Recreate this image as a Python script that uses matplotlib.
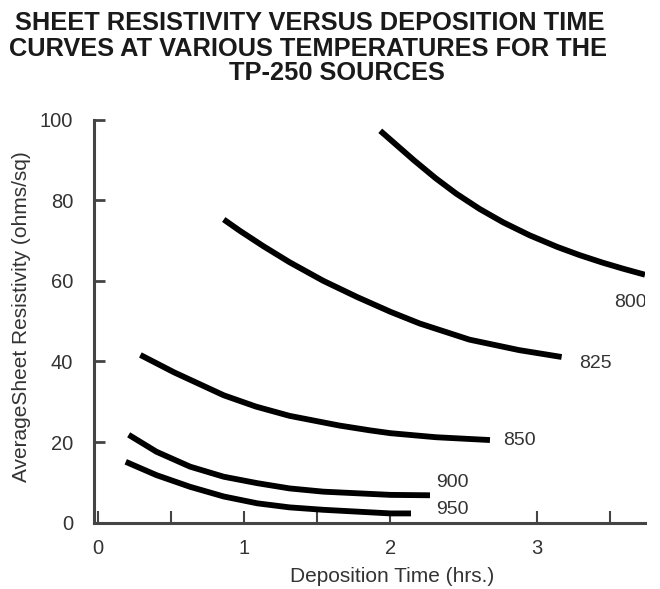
import matplotlib
matplotlib.use("Agg")
import matplotlib.pyplot as plt

plt.rcParams['font.family'] = ['Liberation Sans', 'DejaVu Sans']

# curves: deposition time (hrs) vs sheet resistivity (ohms/sq)
t_800 = [1.93, 2.16, 2.31, 2.45, 2.61, 2.77, 2.95, 3.14, 3.29, 3.45, 3.59, 3.74]
r_800 = [97.2, 89.9, 85.4, 81.6, 77.8, 74.5, 71.3, 68.4, 66.4, 64.5, 63.0, 61.5]

t_825 = [0.86, 0.97, 1.13, 1.31, 1.54, 1.77, 2.0, 2.2, 2.54, 2.88, 3.17]
r_825 = [75.2, 72.4, 68.6, 64.6, 60.0, 56.0, 52.3, 49.4, 45.4, 42.8, 41.1]

t_850 = [0.29, 0.52, 0.86, 1.08, 1.31, 1.65, 1.86, 2.0, 2.31, 2.68]
r_850 = [41.6, 37.3, 31.6, 28.8, 26.5, 24.1, 22.9, 22.2, 21.2, 20.5]

t_900 = [0.21, 0.40, 0.63, 0.86, 1.09, 1.31, 1.54, 2.0, 2.27]
r_900 = [21.8, 17.6, 13.9, 11.4, 9.8, 8.5, 7.7, 6.9, 6.8]

t_950 = [0.19, 0.40, 0.63, 0.86, 1.09, 1.31, 1.54, 2.0, 2.14]
r_950 = [15.1, 11.8, 8.9, 6.5, 4.8, 3.8, 3.2, 2.3, 2.3]

curve_names = ['800', '825', '850', '900', '950']
label_x = [3.53, 3.29, 2.77, 2.31, 2.31]
label_y = [54.5, 39.6, 20.4, 9.9, 3.3]

x_ticks = [0, 1, 2, 3]
x_minor = [0.5, 1.5, 3.5]
y_ticks = [0, 20, 40, 60, 80, 100]

fig = plt.figure(figsize=(6.6, 5.89), dpi=100)
ax = fig.add_axes([94 / 660, 66.3 / 589, 551 / 660, 403.2 / 589])

curves = [(t_800, r_800), (t_825, r_825), (t_850, r_850), (t_900, r_900), (t_950, r_950)]
for (t, r), name, lx, ly in zip(curves, curve_names, label_x, label_y):
    ax.plot(t, r, color='black', lw=4.2, solid_capstyle='butt', solid_joinstyle='round')
    ax.text(lx, ly, name, fontsize=14, color='#333333', ha='left', va='center', clip_on=True)

ax.set_xlim(-0.027, 3.74)
ax.set_ylim(0, 100)

for s in ['top', 'right']:
    ax.spines[s].set_visible(False)
for s in ['left', 'bottom']:
    ax.spines[s].set_linewidth(2.2)
    ax.spines[s].set_color('#444444')

ax.set_xticks(x_ticks)
ax.set_xticklabels([str(v) for v in x_ticks])
ax.set_xticks(x_minor, minor=True)
ax.set_yticks(y_ticks)
ax.set_yticklabels([str(v) for v in y_ticks])
ax.tick_params(axis='x', which='both', direction='in', length=9, width=1.5,
               color='#444444', labelsize=14.5, labelcolor='#333333', pad=12)
ax.tick_params(axis='y', direction='in', length=8, width=2, color='#444444',
               labelsize=14.5, labelcolor='#333333', pad=15)

fig.text(392 / 660, 1 - 577 / 589, 'Deposition Time (hrs.)', fontsize=15,
         color='#333333', ha='center', va='center')
fig.text(22 / 660, 1 - 317 / 589, 'AverageSheet Resistivity (ohms/sq)', fontsize=15,
         color='#333333', ha='center', va='center', rotation=90)

fig.text(310 / 660, 1 - 23.5 / 589, 'SHEET RESISTIVITY VERSUS DEPOSITION TIME',
         fontsize=18.3, fontweight='bold', ha='center', va='center', color='#1a1a1a')
fig.text(308 / 660, 1 - 48.5 / 589, 'CURVES AT VARIOUS TEMPERATURES FOR THE',
         fontsize=18.3, fontweight='bold', ha='center', va='center', color='#1a1a1a')
fig.text(337 / 660, 1 - 73.5 / 589, 'TP-250 SOURCES',
         fontsize=18.3, fontweight='bold', ha='center', va='center', color='#1a1a1a')

fig.savefig('out.png', dpi=100)
